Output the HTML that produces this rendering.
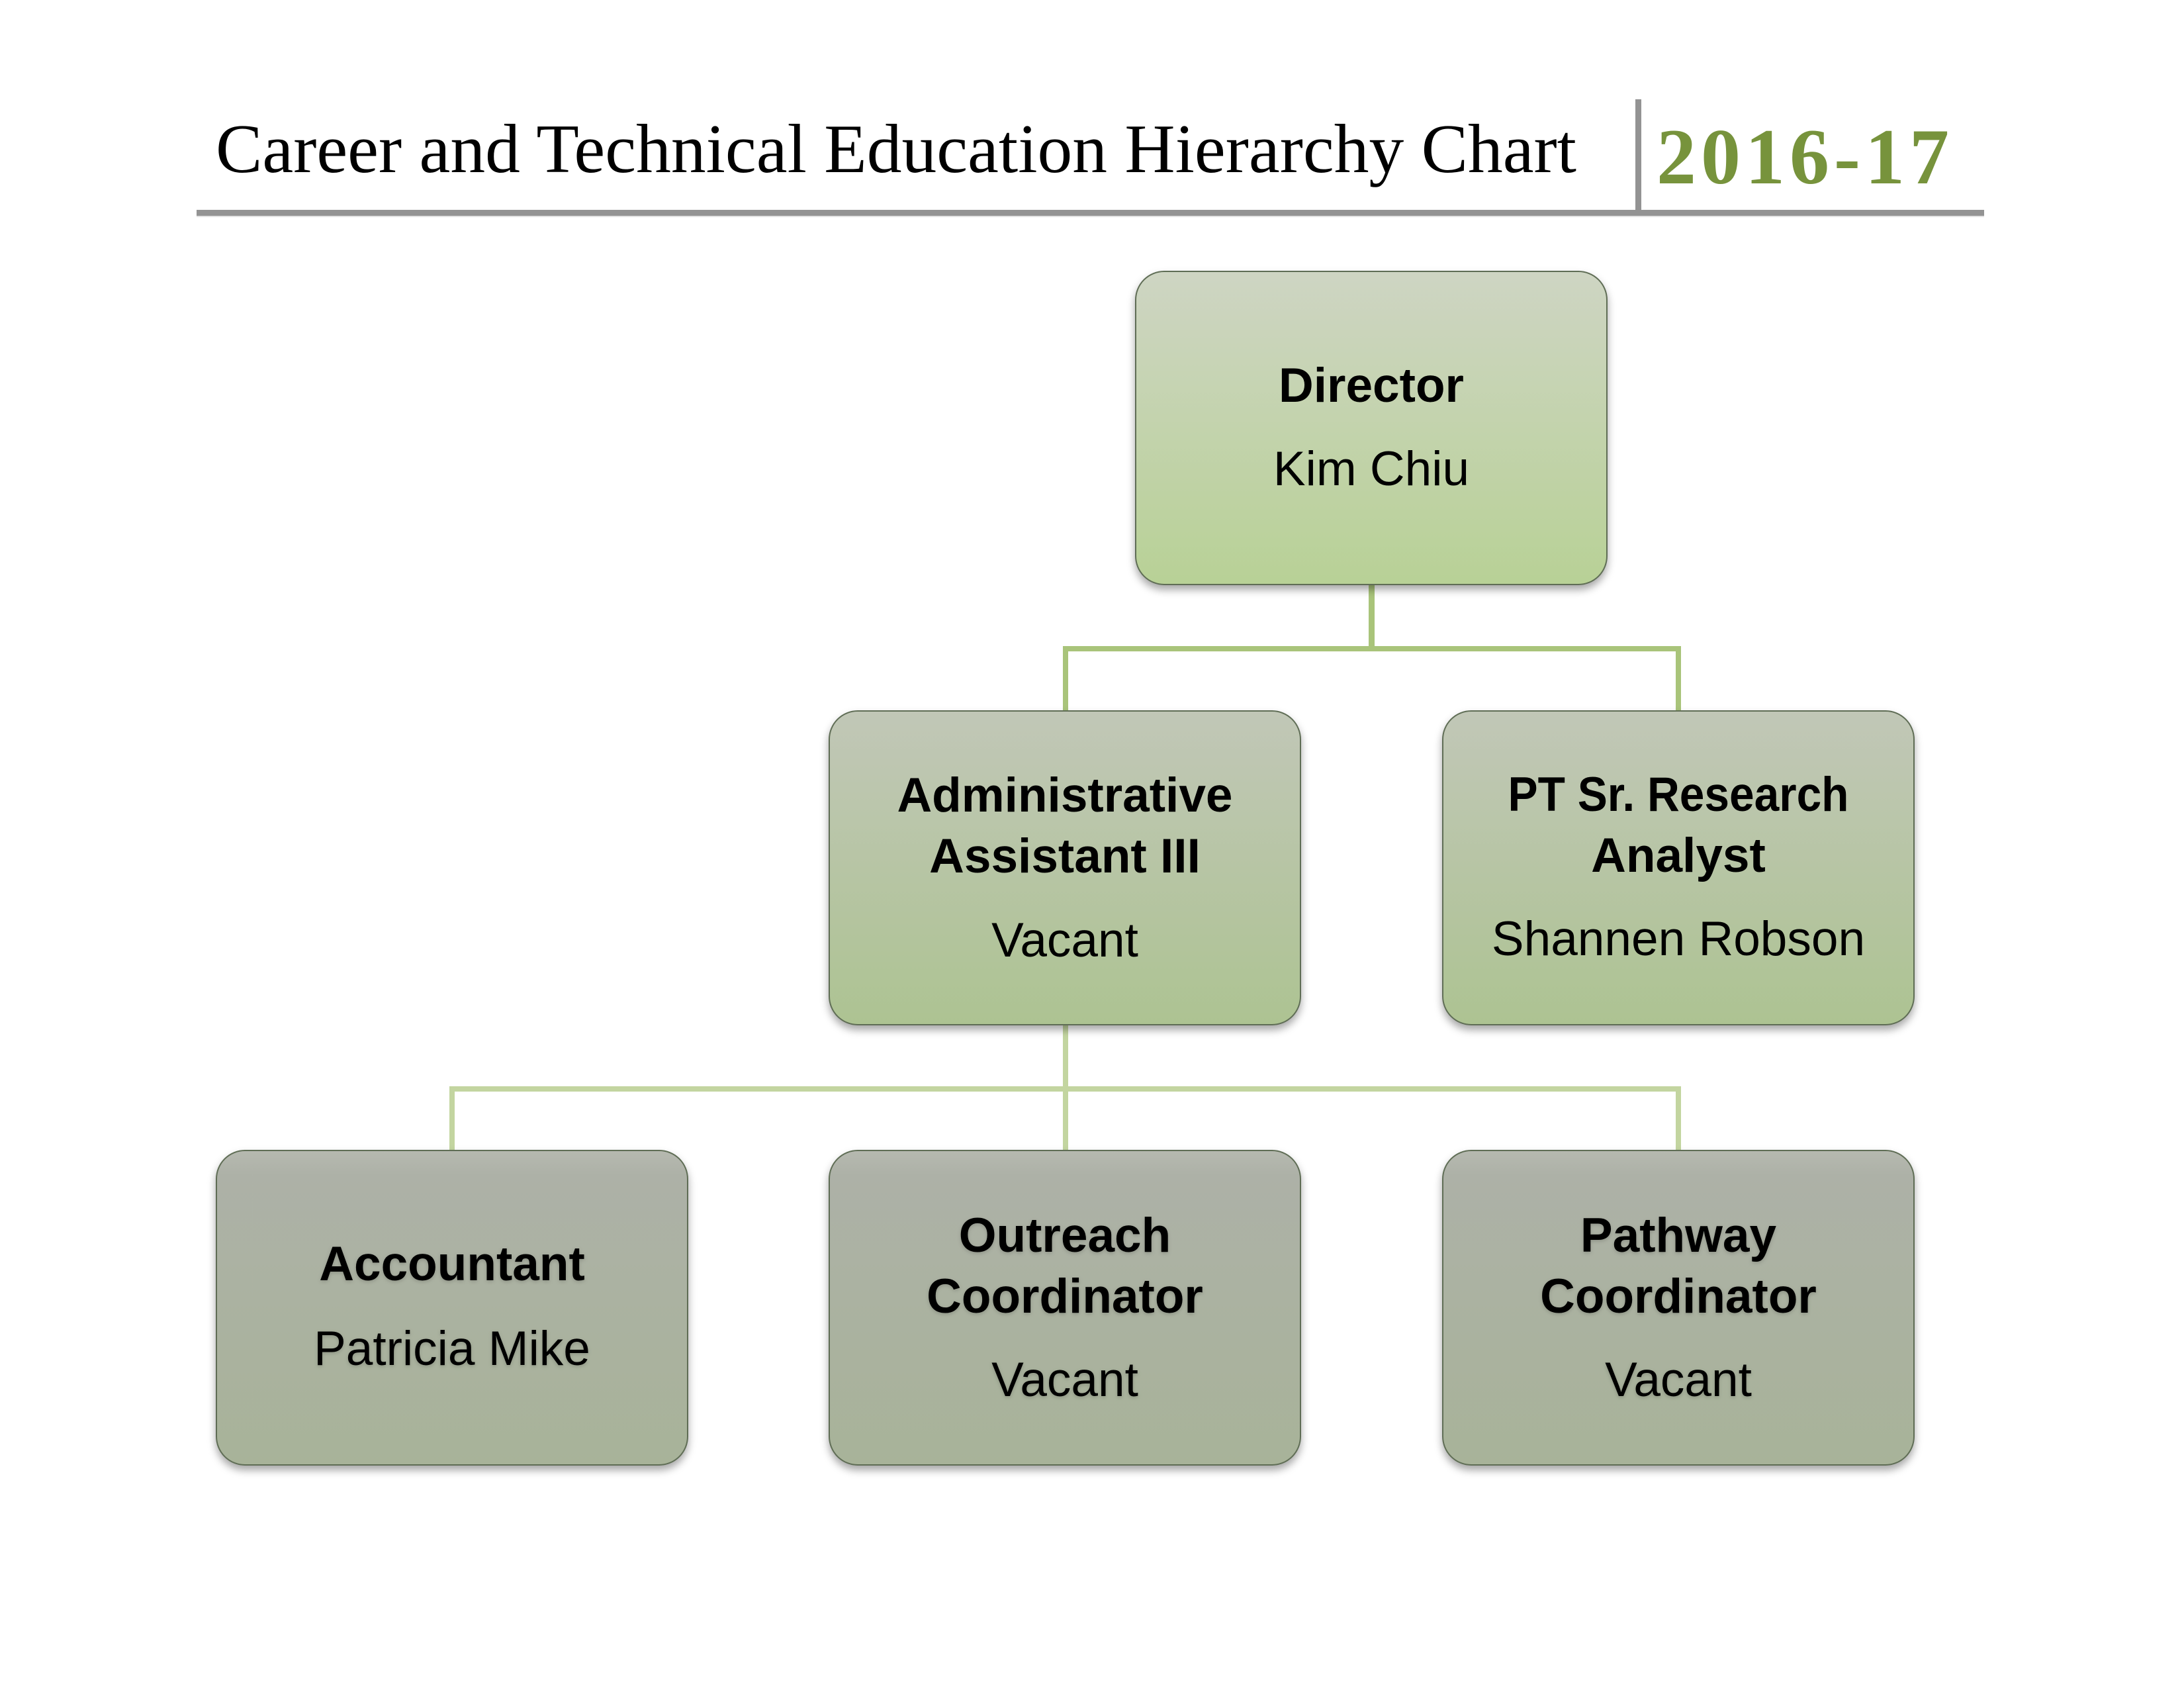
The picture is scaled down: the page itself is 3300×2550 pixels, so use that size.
<!DOCTYPE html>
<html>
<head>
<meta charset="utf-8">
<style>
html,body{margin:0;padding:0;background:#fff;}
body{width:3300px;height:2550px;overflow:hidden;}
svg{display:block;}
</style>
</head>
<body>
<svg width="3300" height="2550" viewBox="0 0 3300 2550" xmlns="http://www.w3.org/2000/svg">
  <defs>
    <linearGradient id="g1" x1="0" y1="0" x2="0" y2="1">
      <stop offset="0" stop-color="#ced5c3"/>
      <stop offset="1" stop-color="#b8d196"/>
    </linearGradient>
    <linearGradient id="g2" x1="0" y1="0" x2="0" y2="1">
      <stop offset="0" stop-color="#c1c7b7"/>
      <stop offset="1" stop-color="#adc392"/>
    </linearGradient>
    <linearGradient id="g3" x1="0" y1="0" x2="0" y2="1">
      <stop offset="0" stop-color="#b6b9b0"/>
      <stop offset="0.08" stop-color="#adb1a7"/>
      <stop offset="1" stop-color="#a8b399"/>
    </linearGradient>
    <filter id="sh" x="-10%" y="-10%" width="120%" height="125%">
      <feDropShadow dx="0" dy="7" stdDeviation="6" flood-color="#000" flood-opacity="0.35"/>
    </filter>
    <filter id="ts" x="-5%" y="-20%" width="110%" height="140%">
      <feDropShadow dx="0" dy="2" stdDeviation="3" flood-color="#000" flood-opacity="0.18"/>
    </filter>
  </defs>

  <!-- Header -->
  <text x="326" y="260" font-family="'Liberation Serif', serif" font-size="105" fill="#000" textLength="2056" lengthAdjust="spacingAndGlyphs">Career and Technical Education Hierarchy Chart</text>
  <text x="2503" y="277" font-family="'Liberation Serif', serif" font-size="120" font-weight="bold" letter-spacing="7" fill="#77933c">2016-17</text>
  <rect x="297" y="317" width="2701" height="9" fill="#939393"/>
  <rect x="297" y="326" width="2701" height="2" fill="#e2e2e2"/>
  <rect x="2471" y="150" width="9" height="170" fill="#939393"/>

  <!-- Connectors upper -->
  <g fill="#a9c47a">
    <rect x="2068" y="880" width="9" height="104"/>
    <rect x="1606" y="976" width="934" height="8"/>
    <rect x="1606" y="976" width="8" height="100"/>
    <rect x="2532" y="976" width="8" height="100"/>
  </g>
  <!-- Connectors lower -->
  <g fill="#c3d5a0">
    <rect x="1606" y="1545" width="8" height="195"/>
    <rect x="679" y="1641" width="1861" height="8"/>
    <rect x="679" y="1641" width="8" height="99"/>
    <rect x="2532" y="1641" width="8" height="99"/>
  </g>

  <!-- Boxes -->
  <g filter="url(#sh)" stroke="#5f6d55" stroke-width="2">
    <rect x="1716" y="410" width="712" height="473" rx="43" ry="43" fill="url(#g1)"/>
    <rect x="1253" y="1074" width="712" height="474" rx="43" ry="43" fill="url(#g2)"/>
    <rect x="2180" y="1074" width="712" height="474" rx="43" ry="43" fill="url(#g2)"/>
    <rect x="327" y="1738" width="712" height="475" rx="43" ry="43" fill="url(#g3)"/>
    <rect x="1253" y="1738" width="712" height="475" rx="43" ry="43" fill="url(#g3)"/>
    <rect x="2180" y="1738" width="712" height="475" rx="43" ry="43" fill="url(#g3)"/>
  </g>

  <!-- Box text -->
  <g font-family="'Liberation Sans', sans-serif" font-size="73" fill="#000" text-anchor="middle">
    <text x="2072" y="607" font-weight="bold">Director</text>
    <text x="2072" y="733">Kim Chiu</text>

    <text x="1609" y="1226" font-weight="bold">Administrative</text>
    <text x="1609" y="1318" font-weight="bold">Assistant III</text>
    <text x="1609" y="1445">Vacant</text>

    <text x="2536" y="1225" font-weight="bold" textLength="515" lengthAdjust="spacingAndGlyphs">PT Sr. Research</text>
    <text x="2536" y="1317" font-weight="bold">Analyst</text>
    <text x="2536" y="1443">Shannen Robson</text>

    <g filter="url(#ts)">
      <text x="683" y="1934" font-weight="bold">Accountant</text>
      <text x="683" y="2062">Patricia Mike</text>

      <text x="1609" y="1891" font-weight="bold">Outreach</text>
      <text x="1609" y="1983" font-weight="bold">Coordinator</text>
      <text x="1609" y="2109">Vacant</text>

      <text x="2536" y="1891" font-weight="bold">Pathway</text>
      <text x="2536" y="1983" font-weight="bold">Coordinator</text>
      <text x="2536" y="2109">Vacant</text>
    </g>
  </g>
</svg>
</body>
</html>
